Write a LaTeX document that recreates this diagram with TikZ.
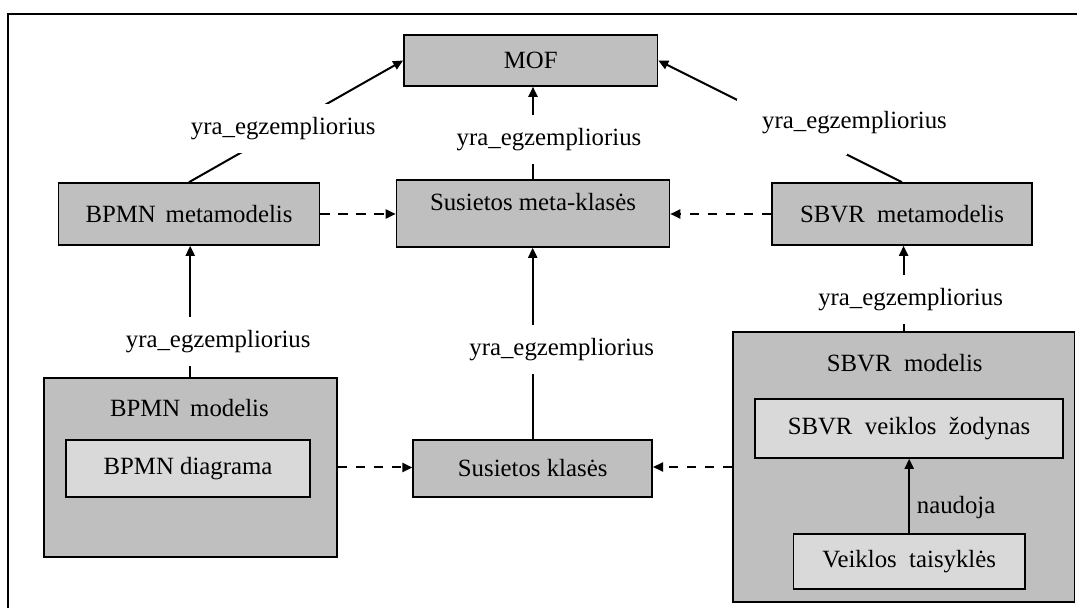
\documentclass[tikz,border=0pt]{standalone}
\usepackage{fontspec}
\setmainfont{Liberation Serif}
\usetikzlibrary{arrows.meta, positioning, calc}

\definecolor{boxgray}{RGB}{191,191,191}
\definecolor{innergray}{RGB}{217,217,217}
\newcommand{\wsp}{\hspace{0.5em}}

\tikzset{
  every node/.style={font=\fontsize{12.4}{14}\selectfont},
  box/.style={draw, line width=0.8pt, fill=boxgray, inner sep=0pt},
  inbox/.style={draw, line width=0.8pt, fill=innergray, inner sep=0pt},
  inst/.style={-{Triangle[length=5pt,width=4.5pt]}, line width=1pt},
  link/.style={-{Triangle[length=5pt,width=4.5pt]}, line width=1pt, dash pattern=on 4.7pt off 4.3pt},
  lbl/.style={fill=white, inner xsep=1pt, inner ysep=6.5pt},
  gapbox/.style={fill=white, inner sep=0pt, minimum width=55pt, minimum height=28pt},
}

\begin{document}
\begin{tikzpicture}[x=0.5pt, y=-0.5pt]
    \useasboundingbox (0,0) rectangle (1077,608);
    % Frame
    \draw[line width=0.8pt] (8,608) -- (8,14) -- (1077,14);

    % Top
    \node[box, minimum width=126.75pt, minimum height=25.5pt] (mof) at (530.7,60.5) {MOF};

    % Metamodels
    \node[box, minimum width=130.5pt, minimum height=31pt] (bpmnmeta) at (189,214) {BPMN\hspace{0.4em}metamodelis};
    \node[box, minimum width=136.5pt, minimum height=33.5pt, text height=9pt, text depth=12pt] (susmeta) at (533,213.5) {Susietos meta-klasės};
    \node[box, minimum width=130pt, minimum height=31pt] (sbvrmeta) at (902,214) {SBVR\wsp metamodelis};

    % Models
    \node[box, minimum width=146.5pt, minimum height=89.5pt] (bpmnmod) at (190.2,467.5) {};
    \node (bpmntitle) at (189.4,408) {BPMN\hspace{0.4em}modelis};
    \node[inbox, minimum width=122pt, minimum height=28.5pt] (bpmndiag) at (188,468.5) {BPMN diagrama};

    \node[box, minimum width=119.5pt, minimum height=28.5pt] (susk) at (532.7,468.5) {Susietos klasės};

    \node[box, minimum width=170.8pt, minimum height=135pt] (sbvrmod) at (903.6,467) {};
    \node (sbvrtitle) at (904.7,363) {SBVR\wsp modelis};
    \node[inbox, minimum width=154pt, minimum height=29.5pt] (zod) at (909,428.5) {SBVR\wsp veiklos\wsp žodynas};
    \node[inbox, minimum width=115.8pt, minimum height=27.5pt] (vt) at (909.2,561.5) {Veiklos\wsp taisyklės};

    % Instance links
    \draw[inst] (bpmnmeta.north) -- node[lbl, pos=0.44] (l1) {yra\_egzempliorius} (mof.west);
    \draw[inst] (susmeta.north) -- node[lbl, pos=0.43, xshift=8pt] (l2) {yra\_egzempliorius} (susmeta.north |- mof.south);
    \draw[inst] (sbvrmeta.north) -- node[gapbox, pos=0.45] (g3) {} (mof.east);
    \node (l3) at (854.5,123) {yra\_egzempliorius};

    \draw[inst] (bpmnmod.north) -- node[lbl, pos=0.27, xshift=14pt] (l4) {yra\_egzempliorius} (bpmnmod.north |- bpmnmeta.south);
    \draw[inst] (susk.north) -- node[lbl, pos=0.47, xshift=14.5pt] (l5) {yra\_egzempliorius} (susk.north |- susmeta.south);
    \draw[inst] (sbvrmod.north) -- node[lbl, pos=0.37, xshift=3.5pt] (l6) {yra\_egzempliorius} (sbvrmod.north |- sbvrmeta.south);

    \draw[inst] (vt.north) -- node[right, pos=0.34] (l7) {naudoja} (vt.north |- zod.south);

    % Dashed links
    \draw[link] (bpmnmeta.east) -- (susmeta.west |- bpmnmeta.east);
    \draw[link] (sbvrmeta.west) -- (susmeta.east |- sbvrmeta.west);
    \draw[link] (bpmnmod.east) -- (susk.west |- bpmnmod.east);
    \draw[link] (sbvrmod.west) -- (susk.east |- sbvrmod.west);
\end{tikzpicture}
\end{document}
